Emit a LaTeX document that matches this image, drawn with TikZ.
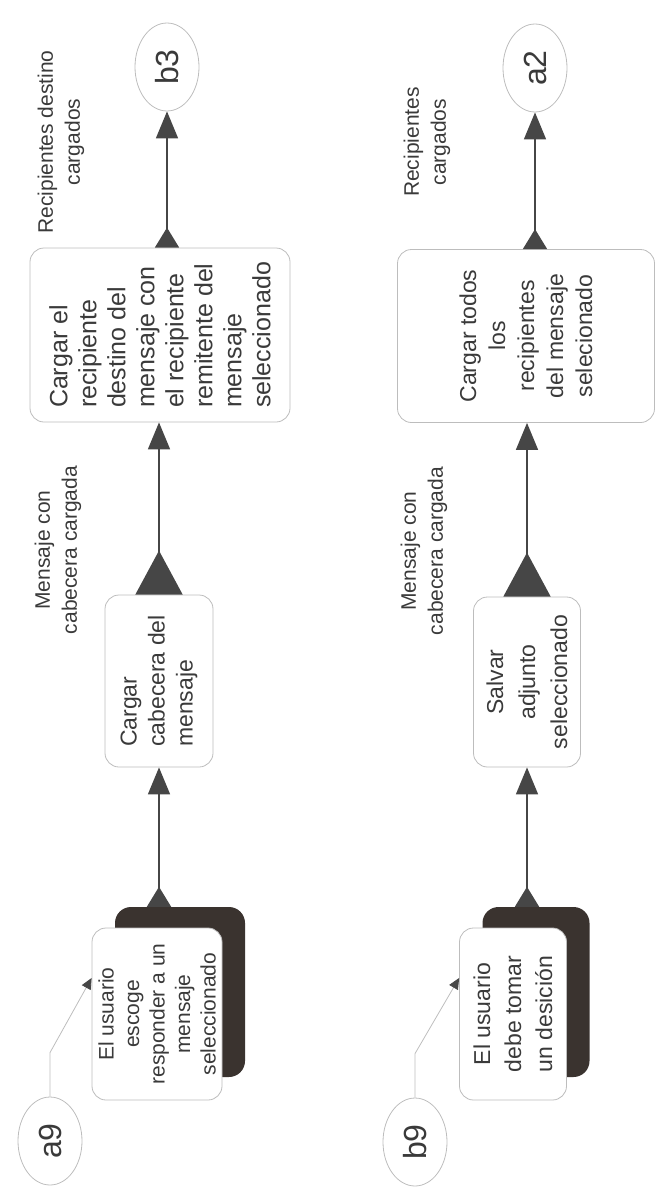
\documentclass[tikz,border=0pt]{standalone}
\usepackage{fontspec}
\setmainfont{Liberation Sans}
\usetikzlibrary{arrows.meta, shapes.geometric, positioning}
\definecolor{ink}{HTML}{3A3A3A}
\definecolor{rim}{HTML}{BDBDBD}
\definecolor{linec}{HTML}{464646}
\definecolor{shadefill}{HTML}{3A332F}
\tikzstyle{process} = [rectangle, rounded corners=14pt, draw=rim, line width=0.8pt, fill=white, text=ink, rotate=90, align=center, inner sep=0pt, font=\fontsize{23}{28}\selectfont]
\tikzstyle{shade} = [rectangle, rounded corners=16pt, fill=shadefill, rotate=90, inner sep=0pt]
\tikzstyle{terminal} = [ellipse, draw=rim, line width=0.8pt, text=ink, rotate=90, inner sep=0pt, minimum width=88pt, minimum height=64pt, font=\fontsize{32}{32}\selectfont]
\tikzstyle{flowlabel} = [text=ink, rotate=90, align=center, font=\fontsize{21}{27}\selectfont]
\tikzstyle{connector} = [draw=linec, line width=1.6pt, {Triangle[reversed,length=20pt,width=24pt]}-{Triangle[length=27pt,width=22pt]}]
\tikzstyle{bigconnector} = [connector, {Triangle[reversed,length=44pt,width=47pt]}-{Triangle[length=27pt,width=22pt]}]
\tikzstyle{pointer} = [draw=rim, line width=0.8pt, -{Triangle[length=11pt,width=10pt,color=linec]}]

\begin{document}
\begin{tikzpicture}[x=1pt, y=-1pt]
    \useasboundingbox (0,0) rectangle (657,1199);
    % Nodes
    \node [terminal] (a9) at (50,1141) {a9};
    \node [shade, minimum width=170pt, minimum height=130pt] (usr1s) at (180,992) {};
    \node [process, minimum width=172pt, minimum height=130pt, font=\fontsize{21}{25.5}\selectfont] (usr1) at (157,1014) {El usuario\\escoge\\responder a un\\mensaje\\seleccionado};
    \node [process, minimum width=172pt, minimum height=108pt, align=left] (hdr) at (159,681) {Cargar\\cabecera del\\mensaje};
    \node [process, minimum width=174pt, minimum height=260pt, align=left, font=\fontsize{25}{29}\selectfont] (dst) at (160,335) {Cargar el\\recipiente\\destino del\\mensaje con\\el recipiente\\remitente del\\mensaje\\seleccionado};
    \node [terminal] (b3) at (167,67) {b3};
    \node [flowlabel] (lblhdr) at (58,550) {Mensaje con\\cabecera cargada};
    \node [flowlabel] (lbldst) at (61,142) {Recipientes destino\\cargados};

    \node [terminal] (b9) at (415,1142) {b9};
    \node [shade, minimum width=170pt, minimum height=107pt] (usr2s) at (536,992) {};
    \node [process, minimum width=172pt, minimum height=107pt, font=\fontsize{23}{31}\selectfont] (usr2) at (513,1014) {El usuario\\debe tomar\\un desición};
    \node [process, minimum width=170pt, minimum height=107pt, font=\fontsize{23}{32}\selectfont] (slv) at (527,682) {Salvar\\adjunto\\seleccionado};
    \node [process, minimum width=173pt, minimum height=257pt, font=\fontsize{23}{29}\selectfont] (all) at (526,336) {Cargar todos\\los\\recipientes\\del mensaje\\selecionado};
    \node [terminal] (a2) at (535,68) {a2};
    \node [flowlabel] (lblslv) at (424,551) {Mensaje con\\cabecera cargada};
    \node [flowlabel] (lblall) at (427,142) {Recipientes\\cargados};

    % Arrows
    \path [pointer] (a9.east) -- ++(0,-44) -- ([yshift=36pt]usr1.north);
    \path [connector] (hdr.west |- usr1s.east) -- (hdr.west);
    \path [bigconnector] (hdr.east) -- (hdr.east |- dst.west);
    \path [connector] (b3.west |- dst.east) -- (b3.west);

    \path [pointer] (b9.east) -- ++(0,-44) -- ([yshift=36pt]usr2.north);
    \path [connector] (slv.west |- usr2s.east) -- (slv.west);
    \path [bigconnector] (slv.east) -- (slv.east |- all.west);
    \path [connector] (a2.west |- all.east) -- (a2.west);
\end{tikzpicture}
\end{document}
